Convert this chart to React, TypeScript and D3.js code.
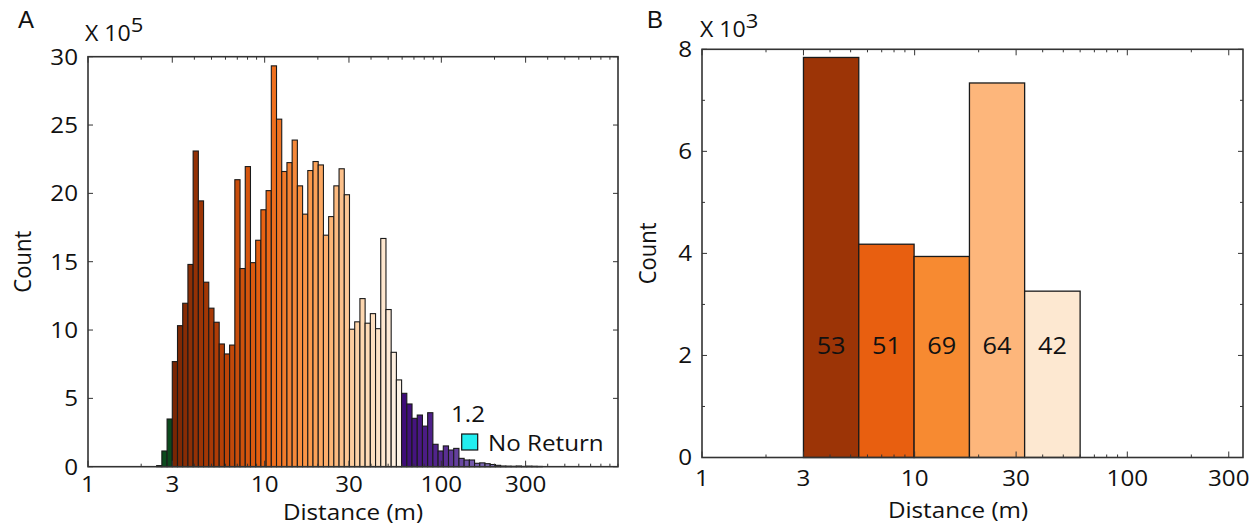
import React from "react";
import * as d3 from "d3";

// ---- panel A: histogram of distances (counts x 10^5), log-spaced bins ----
const binOrigin = 3; // m, this value sits on a bin edge
const binsBelowOrigin = 3;
const binLogWidth = 0.0295; // decades per bin
const countsA = [
  0.08, 1.15, 3.49,
  7.69, 10.32, 11.96, 14.8, 23.1, 19.45, 13.5, 11.6, 10.57, 8.98, 8.25, 8.9,
  21.0, 14.5, 21.96, 14.93, 16.57, 18.8, 20.2, 29.33, 25.43, 21.6, 22.25, 23.9,
  20.55, 18.48, 21.67, 22.33, 22.08, 16.94, 18.3, 20.55, 21.8, 19.9, 10.06, 10.6,
  12.3, 10.5, 11.2, 10.1, 16.7, 11.5, 8.37, 6.35,
  5.37, 4.59, 3.54, 3.78, 2.97, 3.95, 1.64, 1.15, 1.52, 1.22, 1.34, 0.61, 0.49,
  0.49, 0.25, 0.28, 0.22, 0.16, 0.1, 0.05, 0.04, 0.03, 0.05, 0.02, 0.04, 0.03, 0.02,
];
const noReturnLabel = "1.2";

// ---- panel B: grouped counts (x 10^3) ----
const groupEdges = [3, 5.46, 9.94, 18.1, 32.9, 60];
const countsB = [7.84, 4.18, 3.94, 7.34, 3.26];
const labelsB = ["53", "51", "69", "64", "42"];
const colorsB = ["#9c3406", "#e85f10", "#f78a31", "#fdb67b", "#fde8d1"];

const xTickLabels = [1, 3, 10, 30, 100, 300];
const yTicksA = [0, 5, 10, 15, 20, 25, 30];
const yTicksB = [0, 1, 2, 3, 4, 5, 6, 7, 8];

const brownStops = ["#762504", "#b13d06", "#ea6312", "#fb9a4c", "#fdd2a6", "#fef6ec"];
const purpleEdges = [60, 100, 200, 400];
const purpleStops = ["#3d0a78", "#55288f", "#8a7dc1", "#bab4dc"];
const greenBar = "#0c4a1d";

const FONT = "'Open Sans', sans-serif";
const SX = 1.1; // the figure is stretched horizontally
const FS = 22;
const INK = "#111";

function Label({ x, y, size = FS, anchor = "middle", rotate = 0, children }: any) {
  return (
    <text
      transform={`translate(${x},${y}) scale(${SX},1) rotate(${rotate})`}
      textAnchor={anchor}
      fontSize={size}
      fontFamily={FONT}
      fill={INK}
    >
      {children}
    </text>
  );
}

function Frame({ x0, x1, y0, y1, xScale, yScale, yTicks, yMajor }: any) {
  const xt = xScale.ticks();
  return (
    <g stroke="#333" fill="none">
      {xt.map((t: number, i: number) => {
        const major = xTickLabels.includes(t);
        const len = major ? 6 : 3;
        const x = xScale(t);
        return (
          <g key={"x" + i} strokeWidth={1}>
            <line x1={x} x2={x} y1={y0} y2={y0 - len} />
            <line x1={x} x2={x} y1={y1} y2={y1 + len} />
          </g>
        );
      })}
      {yTicks.map((t: number, i: number) => {
        const len = yMajor(t) ? 5 : 3;
        const y = yScale(t);
        return (
          <g key={"y" + i} strokeWidth={1}>
            <line x1={x0} x2={x0 + len} y1={y} y2={y} />
            <line x1={x1} x2={x1 - len} y1={y} y2={y} />
          </g>
        );
      })}
      <rect x={x0} y={y1} width={x1 - x0} height={y0 - y1} strokeWidth={1.6} stroke="#333" />
    </g>
  );
}

function PanelA() {
  const left = 88, right = 618, top = 56.7, bottom = 466.7;
  const x = d3.scaleLog().domain([1, 1000]).range([left, right]);
  const y = d3.scaleLinear().domain([0, 30]).range([bottom, top]);
  const brown = d3.scaleLog<string>().domain(groupEdges).range(brownStops).interpolate(d3.interpolateRgb);
  const purple = d3.scaleLog<string>().domain(purpleEdges).range(purpleStops).clamp(true);

  const bins = countsA.map((c, i) => {
    const lo = binOrigin * Math.pow(10, (i - binsBelowOrigin) * binLogWidth);
    const hi = binOrigin * Math.pow(10, (i + 1 - binsBelowOrigin) * binLogWidth);
    const mid = Math.sqrt(lo * hi);
    let fill = brown(mid);
    if (hi <= binOrigin * 1.0001) fill = greenBar;
    else if (lo >= 59) fill = purple(mid);
    return { lo, hi, c, fill };
  });

  return (
    <g>
      <text x={18} y={28} fontSize={24} fontFamily="'Liberation Sans', Arial, sans-serif" fill={INK}>A</text>
      <Label x={85} y={40.5} anchor="start" size={21}>
        X 10<tspan dy={-9} fontSize={20}>5</tspan>
      </Label>
      {bins.map((b, i) => (
        <rect
          key={i}
          x={x(b.lo)}
          y={y(b.c)}
          width={x(b.hi) - x(b.lo)}
          height={y(0) - y(b.c)}
          fill={b.fill}
          stroke="#1a1a1a"
          strokeWidth={1.1}
        />
      ))}
      <Frame x0={left} x1={right} y0={bottom} y1={top} xScale={x} yScale={y} yTicks={yTicksA} yMajor={() => true} />
      {yTicksA.map((t) => (
        <Label key={t} x={left - 10} y={y(t) + 7.8} anchor="end">{t}</Label>
      ))}
      {xTickLabels.map((t) => (
        <Label key={t} x={x(t)} y={492}>{t}</Label>
      ))}
      <Label x={(left + right) / 2} y={520}>Distance (m)</Label>
      <Label x={31} y={(top + bottom) / 2} rotate={-90}>Count</Label>
      <Label x={451} y={421.5} anchor="start">{noReturnLabel}</Label>
      <rect x={461.7} y={434} width={16} height={16} fill="#22eef0" stroke="#111" strokeWidth={1.2} />
      <Label x={488} y={450.5} anchor="start">No Return</Label>
    </g>
  );
}

function PanelB() {
  const left = 702, right = 1243, top = 49.3, bottom = 457.5;
  const x = d3.scaleLog().domain([1, 350]).range([left, right]);
  const y = d3.scaleLinear().domain([0, 8]).range([bottom, top]);
  const labelY = y(2.2) + 8.5;

  return (
    <g>
      <text x={647} y={28} fontSize={24} fontFamily="'Liberation Sans', Arial, sans-serif" fill={INK}>B</text>
      <Label x={700} y={37} anchor="start" size={21}>
        X 10<tspan dy={-9} fontSize={20}>3</tspan>
      </Label>
      {countsB.map((c, i) => {
        const lo = groupEdges[i], hi = groupEdges[i + 1];
        return (
          <g key={i}>
            <rect
              x={x(lo)}
              y={y(c)}
              width={x(hi) - x(lo)}
              height={y(0) - y(c)}
              fill={colorsB[i]}
              stroke="#1a1a1a"
              strokeWidth={1.3}
            />
            <Label x={x(Math.sqrt(lo * hi))} y={labelY} size={23}>{labelsB[i]}</Label>
          </g>
        );
      })}
      <Frame x0={left} x1={right} y0={bottom} y1={top} xScale={x} yScale={y} yTicks={yTicksB} yMajor={(t: number) => t % 2 === 0} />
      {yTicksB.filter((t) => t % 2 === 0).map((t) => (
        <Label key={t} x={left - 10} y={y(t) + 7.8} anchor="end">{t}</Label>
      ))}
      {xTickLabels.map((t) => (
        <Label key={t} x={x(t)} y={486}>{t}</Label>
      ))}
      <Label x={958} y={518}>Distance (m)</Label>
      <Label x={656} y={(top + bottom) / 2} rotate={-90}>Count</Label>
    </g>
  );
}

export default function App() {
  return (
    <div style={{ position: "absolute", left: 0, top: 0 }}>
      <svg width={1257} height={527} style={{ display: "block", background: "#fff" }}>
        <PanelA />
        <PanelB />
      </svg>
    </div>
  );
}
